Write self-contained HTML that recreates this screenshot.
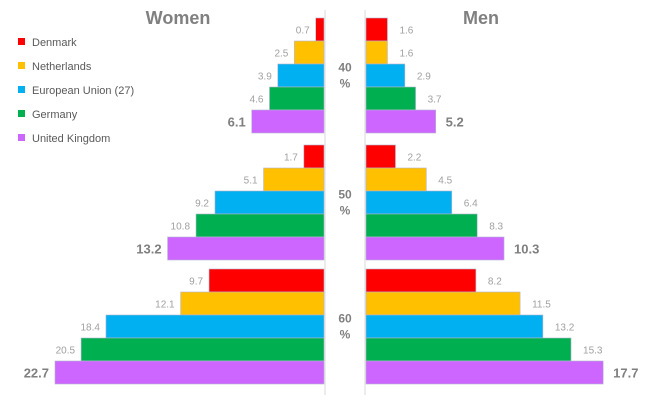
<!DOCTYPE html>
<html><head><meta charset="utf-8"><style>
body{margin:0;background:#fff;}
svg{display:block;font-family:"Liberation Sans",sans-serif;}
</style></head><body>
<svg id="c" width="647" height="407">
<text x="178" y="24" font-size="18" font-weight="bold" fill="#808080" text-anchor="middle">Women</text>
<text x="481" y="24" font-size="18" font-weight="bold" fill="#808080" text-anchor="middle">Men</text>
<line x1="325" y1="10" x2="325" y2="395" stroke="#d9d9d9"/>
<line x1="365" y1="10" x2="365" y2="395" stroke="#d9d9d9"/>
<g id="bars"></g>
<g id="legend"></g>
</svg>
<script>
const groups=["40\n%","50\n%","60\n%"];
const countries=["Denmark","Netherlands","European Union (27)","Germany","United Kingdom"];
const colors=["#ff0000","#ffc000","#00b0f0","#00b050","#cc66ff"];
const women=[[0.7,2.5,3.9,4.6,6.1],[1.7,5.1,9.2,10.8,13.2],[9.7,12.1,18.4,20.5,22.7]];
const men=[[1.6,1.6,2.9,3.7,5.2],[2.2,4.5,6.4,8.3,10.3],[8.2,11.5,13.2,15.3,17.7]];
const ns="http://www.w3.org/2000/svg";
const wx=v=>v*11.85, mx=v=>v*13.4;
const groupTop=[18,145,269], rowH=23;
const g=document.getElementById('bars');
function mk(t,a,p){const e=document.createElementNS(ns,t);for(const k in a)e.setAttribute(k,a[k]);(p||g).appendChild(e);return e;}
groups.forEach((gl,gi)=>{
  const parts=gl.split("\n");
  const cy=groupTop[gi]+rowH*2.5;
  const t1=mk('text',{x:345,y:cy-4,'font-size':12,'font-weight':'bold',fill:'#808080','text-anchor':'middle'});t1.textContent=parts[0];
  
  
  const t2=mk('text',{x:345,y:cy+12,'font-size':12,'font-weight':'bold',fill:'#808080','text-anchor':'middle'});t2.textContent=parts[1];
  
  
  countries.forEach((c,ci)=>{
    const y=groupTop[gi]+ci*rowH;
    const last=ci===4;
    const w=wx(women[gi][ci]);
    const r=mk('rect',{x:324-w,y:y,width:w,height:rowH,fill:colors[ci],stroke:'#b4b4d0','stroke-width':0.6});
    
    
    const lt=mk('text',{x:324-w-6,y:y+rowH/2+(last?5:4),'font-size':last?13:10,'font-weight':last?'bold':'normal',fill:last?'#7f7f7f':'#a0a0a0','text-anchor':'end'});
    lt.textContent=women[gi][ci].toFixed(1);
    
    
    const m=mx(men[gi][ci]);
    const r2=mk('rect',{x:366,y:y,width:m,height:rowH,fill:colors[ci],stroke:'#b4b4d0','stroke-width':0.6});
    
    
    const lt2=mk('text',{x:366+m+(last?10:12),y:y+rowH/2+(last?5:4),'font-size':last?13:10,'font-weight':last?'bold':'normal',fill:last?'#7f7f7f':'#a0a0a0'});
    lt2.textContent=men[gi][ci].toFixed(1);
    
    
  });
});
const lg=document.getElementById('legend');
countries.forEach((c,i)=>{
  const y=43+i*24;
  const s=mk('rect',{x:18,y:y-5,width:7,height:7,fill:colors[i]},lg);
  
  
  const t=mk('text',{x:32,y:y+3,'font-size':11,fill:'#595959'},lg);
  t.textContent=c;
  
  
});
</script>
</body></html>
